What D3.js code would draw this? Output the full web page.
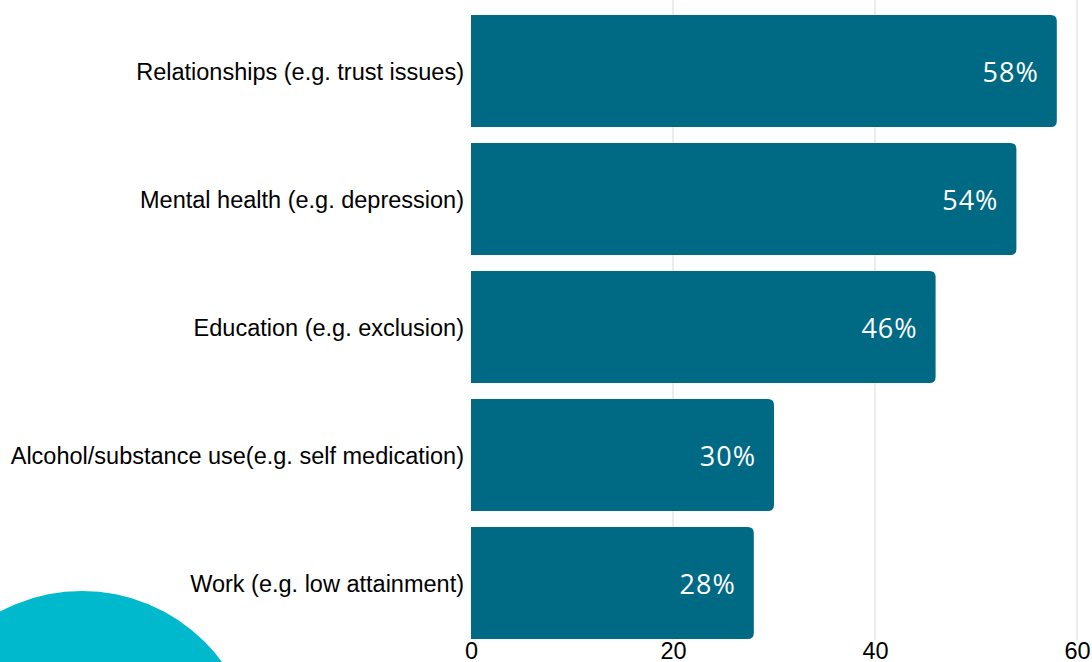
<!DOCTYPE html>
<html>
<head>
<meta charset="utf-8">
<script src="https://cdn.jsdelivr.net/npm/d3@7"></script>
<style>
  html, body { margin: 0; padding: 0; background: #fff; }
  svg { display: block; }
</style>
</head>
<body>
<svg id="chart" width="1092" height="662"></svg>
<script>
const categories = [
  "Relationships (e.g. trust issues)",
  "Mental health (e.g. depression)",
  "Education (e.g. exclusion)",
  "Alcohol/substance use(e.g. self medication)",
  "Work (e.g. low attainment)"
];
const values = [58, 54, 46, 30, 28];
const tickValues = [0, 20, 40, 60];

const svg = d3.select("#chart");

// decorative circle in the lower-left corner
svg.append("circle")
  .attr("cx", 82).attr("cy", 764.5).attr("r", 173.5)
  .attr("fill", "#00b9cc");

const x = d3.scaleLinear().domain([0, 60]).range([471, 1077]);
const y = d3.scaleBand().domain(categories).range([7, 647]).paddingInner(0.125).paddingOuter(0.0625);

// vertical gridlines
svg.append("g").selectAll("line")
  .data(tickValues.slice(1))
  .join("line")
  .attr("x1", d => x(d)).attr("x2", d => x(d))
  .attr("y1", 0).attr("y2", 640)
  .attr("stroke", "#d9d9d9").attr("stroke-width", 1);

// bars with rounded right end
const r = 6;
function barPath(d, i) {
  const x0 = x(0), x1 = x(d), y0 = y(categories[i]), h = y.bandwidth();
  return `M${x0},${y0}H${x1 - r}Q${x1},${y0} ${x1},${y0 + r}V${y0 + h - r}Q${x1},${y0 + h} ${x1 - r},${y0 + h}H${x0}Z`;
}
svg.append("g").selectAll("path")
  .data(values)
  .join("path")
  .attr("d", barPath)
  .attr("fill", "#006984");

// value labels inside bars
svg.append("g").selectAll("text")
  .data(values)
  .join("text")
  .attr("x", d => x(d) - 18)
  .attr("y", (d, i) => y(categories[i]) + y.bandwidth() / 2)
  .attr("dy", "0.4em")
  .attr("text-anchor", "end")
  .attr("fill", "#fff")
  .attr("font-family", "'Open Sans', Lato, sans-serif")
  .attr("font-weight", 400)
  .attr("font-size", 27)
  .attr("letter-spacing", "1px")
  .text(d => d + "%");

// category labels
svg.append("g").selectAll("text")
  .data(categories)
  .join("text")
  .attr("x", 464)
  .attr("y", d => y(d) + y.bandwidth() / 2)
  .attr("dy", "0.38em")
  .attr("text-anchor", "end")
  .attr("fill", "#000")
  .attr("font-family", "'Liberation Sans', Arial, sans-serif")
  .attr("font-size", 23.5)
  .text(d => d);

// x axis tick labels
const xAxis = d3.axisBottom(x).tickValues(tickValues).tickSize(0).tickPadding(0);
const gx = svg.append("g").attr("transform", "translate(0,642)").call(xAxis);
gx.select(".domain").remove();
gx.selectAll("text")
  .attr("font-family", "'Liberation Sans', Arial, sans-serif")
  .attr("font-size", 23.5)
  .attr("fill", "#000")
  .attr("dy", "0.71em");
</script>
</body>
</html>
